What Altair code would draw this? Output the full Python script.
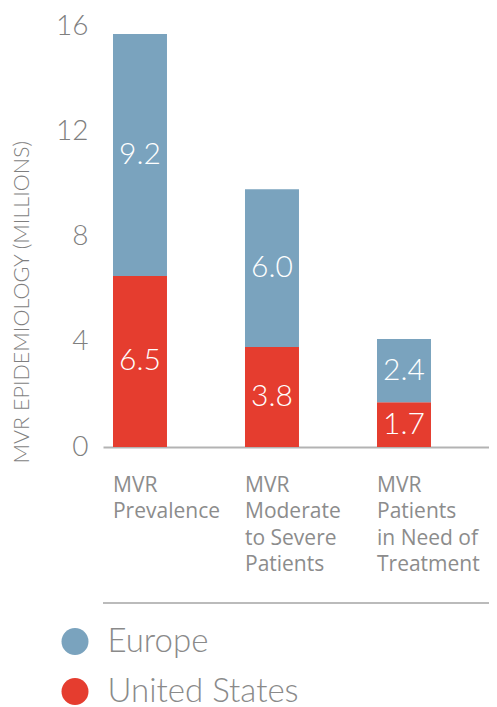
import altair as alt
import pandas as pd

categories = ["MVR|Prevalence", "MVR|Moderate|to Severe|Patients", "MVR|Patients|in Need of|Treatment"]
regions = ["Europe", "United States"]
europe = [9.2, 6.0, 2.4]
united_states = [6.5, 3.8, 1.7]
y_ticks = [0, 4, 8, 12, 16]
colors = ["#7AA3BE", "#E53D2F"]

rows = []
for i, c in enumerate(categories):
    rows.append({"cat": c, "region": "United States", "value": united_states[i], "ord": 0,
                 "label": f"{united_states[i]:.1f}"})
    rows.append({"cat": c, "region": "Europe", "value": europe[i], "ord": 1,
                 "label": f"{europe[i]:.1f}"})
df = pd.DataFrame(rows)

W, H = 386, 421

xscale = alt.Scale(paddingInner=0.591, paddingOuter=0.2576, align=0.147)
xaxis = alt.Axis(
    title=None, labelExpr="split(datum.label, '|')", labelAlign="left", labelBaseline="top",
    labelOffset=-27, labelPadding=27, labelFontSize=21, labelFont="Open Sans",
    labelColor="#8c8c8c", labelLineHeight=26.5, labelAngle=0, ticks=False,
    domainColor="#b3b3b3", domainWidth=2, labelLimit=0, labelBound=False, labelOverlap=False,
)
yscale = alt.Scale(domain=[0, 16], nice=False)
yaxis = alt.Axis(
    values=y_ticks, labelFontSize=28, labelFont="Lato", labelFontWeight=300, labelColor="#7f7f7f",
    ticks=False, domain=False, grid=False, labelPadding=15,
    title="MVR EPIDEMIOLOGY (MILLIONS)", titleFont="Lato", titleFontWeight=300, titleFontSize=21.5,
    titleColor="#7f7f7f", titleX=-81, titleY=437, titleAlign="left", titleBaseline="middle",
    titleAngle=270,
)

base = alt.Chart(df)

bars = base.mark_bar().encode(
    x=alt.X("cat:N", sort=categories, scale=xscale, axis=xaxis),
    y=alt.Y("value:Q", stack="zero", scale=yscale, axis=yaxis),
    color=alt.Color("region:N", scale=alt.Scale(domain=regions, range=colors),
                    legend=alt.Legend(
                        title=None, orient="none", legendX=-44.5, legendY=599,
                        symbolType="circle", symbolSize=729, symbolStrokeWidth=0,
                        symbolOpacity=1, labelLimit=0,
                        labelFont="Lato", labelFontWeight=300, labelFontSize=33,
                        labelColor="#8a8a8a", labelOffset=16, rowPadding=16,
                    )),
    order=alt.Order("ord:Q", sort="ascending"),
)

text = base.transform_stack(
    stack="value", groupby=["cat"], sort=[alt.SortField(field="ord", order="ascending")],
    as_=["y0", "y1"],
).transform_calculate(mid="(datum.y0 + datum.y1) / 2").mark_text(
    font="Lato", fontWeight=300, fontSize=30, color="white", align="center", baseline="middle"
).encode(
    x=alt.X("cat:N", sort=categories, scale=xscale, axis=xaxis),
    y=alt.Y("mid:Q", scale=yscale, axis=yaxis),
    text="label:N",
)

sep = alt.Chart(pd.DataFrame({"a": [0]})).mark_rule(color="#bbbbbb", strokeWidth=2).encode(
    x=alt.value(0), x2=alt.value(W), y=alt.value(577)
)

chart = alt.layer(bars, text, sep).properties(
    width=W, height=H,
    autosize=alt.AutoSizeParams(type="none"),
    padding={"left": 95, "top": 18, "right": 0, "bottom": 270},
).configure_view(stroke=None)

chart.save("out.html", embed_options={"renderer": "svg", "actions": False})
